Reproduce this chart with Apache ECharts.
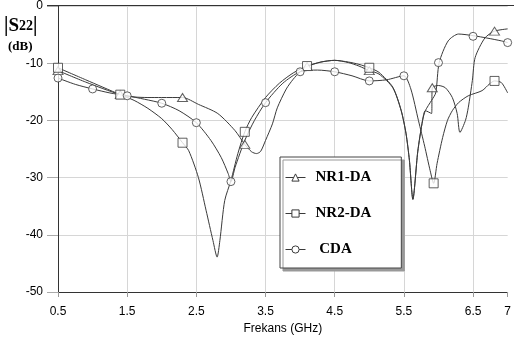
<!DOCTYPE html>
<html><head><meta charset="utf-8">
<script src="https://cdn.jsdelivr.net/npm/echarts@6/dist/echarts.min.js"></script>
<style>html,body{margin:0;padding:0;background:#fff}#c{width:514px;height:341px}</style>
</head><body><div id="c"></div>
<script>
// x tick labels (GHz), one per 0.5 GHz; only odd halves and the last are shown
const xTickLabels = ['0.5','1','1.5','2','2.5','3','3.5','4','4.5','5','5.5','6','6.5','7'];
const yTicks = [0, -10, -20, -30, -40, -50];

// curves [GHz, dB]
const nr1Curve = [[0.5,-11.3],[0.9,-13.3],[1.4,-15.5],[1.6,-15.9],[1.8,-16.0],[2.0,-16.0],[2.3,-16.0],[2.53,-17.2],[2.81,-18.8],[3.06,-21.8],[3.2,-24.2],[3.3,-25.5],[3.37,-25.8],[3.43,-25.4],[3.5,-23.5],[3.6,-20.6],[3.67,-17.8],[3.8,-14.5],[3.9,-12.8],[4.0,-11.5],[4.1,-10.6],[4.3,-9.8],[4.5,-9.5],[4.7,-9.9],[4.85,-10.5],[5.0,-11.3],[5.14,-11.9],[5.34,-14.3],[5.46,-18.3],[5.53,-22.3],[5.58,-27],[5.63,-33.8],[5.7,-25.5],[5.77,-20],[5.81,-18.3],[5.9,-18.8],[5.91,-14.3],[6.0,-13.9],[6.1,-14.3],[6.2,-16],[6.27,-18.8],[6.31,-22.1],[6.39,-20],[6.43,-17.8],[6.49,-13],[6.53,-9],[6.67,-5.6],[6.81,-4.4],[7.0,-4.0]];
const nr2Curve = [[0.5,-10.8],[0.9,-12.9],[1.4,-15.5],[1.6,-16.5],[1.8,-17.9],[2.0,-19.7],[2.15,-21.6],[2.3,-23.9],[2.39,-25.3],[2.53,-30],[2.64,-35.7],[2.74,-41],[2.8,-43.9],[2.84,-41],[2.91,-34],[3.0,-30.5],[3.1,-25.8],[3.2,-22],[3.3,-19.5],[3.5,-16],[3.7,-13.5],[3.9,-11.7],[4.1,-10.5],[4.3,-9.8],[4.5,-9.5],[4.7,-9.8],[4.85,-10.2],[5.0,-10.8],[5.14,-11.6],[5.34,-14.2],[5.46,-18.2],[5.53,-22.2],[5.58,-27],[5.63,-33.8],[5.7,-25.5],[5.77,-20],[5.81,-18.3],[5.9,-16.5],[5.96,-15.2],[6.01,-9.9],[6.14,-6.1],[6.29,-4.9],[6.51,-5.2],[6.7,-5.6],[6.91,-6.1],[7.0,-6.4]];
const cdaCurve = [[0.5,-12.6],[0.75,-13.7],[1.0,-14.5],[1.25,-15.2],[1.5,-15.7],[1.75,-16.3],[2.0,-17.0],[2.25,-18.3],[2.5,-20.4],[2.71,-23.5],[2.86,-26.5],[2.96,-29.3],[3.0,-30.7],[3.06,-28.2],[3.2,-23.5],[3.34,-20.0],[3.5,-16.9],[3.75,-13.5],[4.0,-11.5],[4.25,-11.2],[4.5,-11.5],[4.75,-12.2],[5.0,-13.1],[5.25,-12.9],[5.5,-12.2],[5.6,-14.5],[5.71,-20],[5.8,-24.5],[5.88,-28.8],[5.93,-31],[5.98,-27.5],[6.06,-23],[6.13,-20],[6.2,-18.3],[6.29,-16.9],[6.43,-15.7],[6.63,-14.8],[6.74,-13.6],[6.81,-13.1],[6.91,-13.4],[7.0,-15.2]];

// marker positions [GHz, dB]
const nr1Marks = [[0.5,-11.3],[1.4,-15.5],[2.3,-16.0],[3.2,-24.2],[4.1,-10.6],[5.0,-11.3],[5.91,-14.3],[6.81,-4.4]];
const nr2Marks = [[0.5,-10.8],[1.4,-15.5],[2.3,-23.9],[3.2,-22],[4.1,-10.5],[5.0,-10.8],[5.93,-31],[6.81,-13.1]];
const cdaMarks = [[0.5,-12.6],[1.0,-14.5],[1.5,-15.7],[2.0,-17.0],[2.5,-20.4],[3.0,-30.7],[3.5,-16.9],[4.0,-11.5],[4.5,-11.5],[5.0,-13.1],[5.5,-12.2],[6.0,-9.9],[6.5,-5.3],[7.0,-6.4]];

const names = ['NR1-DA','NR2-DA','CDA'];
const curves = [nr1Curve, nr2Curve, cdaCurve];
const marks = [nr1Marks, nr2Marks, cdaMarks];
const symbols = ['triangle','rect','circle'];
const symSizes = [[10,8],9,8];

const LINE = '#3a3a3a';
const shown = i => i % 2 === 0 || i === xTickLabels.length - 1;
const markStyle = { color: '#fff', borderColor: LINE, borderWidth: 1 };

const series = [];
names.forEach((n, k) => {
  series.push({
    name: n, type: 'line', xAxisIndex: 1, yAxisIndex: 0,
    data: curves[k], smooth: 0.25, symbol: symbols[k], showSymbol: false,
    lineStyle: { color: LINE, width: 1 }, itemStyle: markStyle,
    animation: false, z: 2
  });
});
names.forEach((n, k) => {
  series.push({
    name: n, type: 'scatter', xAxisIndex: 1, yAxisIndex: 0,
    data: marks[k], symbol: symbols[k], symbolSize: symSizes[k],
    itemStyle: markStyle, animation: false, z: 3, clip: false
  });
});

const chart = echarts.init(document.getElementById('c'), null, { renderer: 'canvas' });
chart.setOption({
  backgroundColor: '#fff',
  animation: false,
  grid: { left: 58, right: 1, top: 5, bottom: 49, containLabel: false },
  xAxis: [
    {
      type: 'category', data: xTickLabels, boundaryGap: false, position: 'bottom',
      name: 'Frekans (GHz)', nameLocation: 'middle', nameGap: 31,
      nameTextStyle: { fontFamily: 'Liberation Sans', fontSize: 12, color: '#000' },
      axisLine: { show: true, onZero: false, lineStyle: { color: '#333', width: 1 } },
      axisTick: { show: true, length: 5, interval: (i) => shown(i), lineStyle: { color: '#999' } },
      axisLabel: { interval: (i) => shown(i), margin: 14, fontFamily: 'Liberation Sans', fontSize: 12, color: '#000', showMaxLabel: true, hideOverlap: false },
      splitLine: { show: true, interval: (i) => i % 2 === 0 && i > 0, lineStyle: { color: '#d6d6d6', width: 1 } }
    },
    {
      type: 'value', min: 0.5, max: 7, position: 'top', show: false,
      axisLine: { onZero: false }
    }
  ],
  yAxis: [{
    type: 'value', min: yTicks[yTicks.length - 1], max: yTicks[0], interval: 10,
    axisLine: { show: true, onZero: false, lineStyle: { color: '#333', width: 1 } },
    axisTick: { show: true, length: 11, lineStyle: { color: '#aaa' } },
    axisLabel: { margin: 15, fontFamily: 'Liberation Sans', fontSize: 12, color: '#000', showMaxLabel: true, showMinLabel: true, hideOverlap: false },
    splitLine: { show: true, lineStyle: { color: '#d6d6d6', width: 1 } }
  }],
  legend: {
    data: names, orient: 'vertical', left: 280, top: 157,
    padding: [13, 30, 11, 5], itemGap: 21, itemWidth: 20, itemHeight: 9,
    backgroundColor: '#fff', borderColor: '#444', borderWidth: 1,
    shadowColor: '#999', shadowOffsetX: 3, shadowOffsetY: 3, shadowBlur: 0,
    itemStyle: { color: '#fff', borderColor: LINE, borderWidth: 1 },
    lineStyle: { color: LINE, width: 1 },
    textStyle: { fontFamily: 'Liberation Serif', fontWeight: 'bold', fontSize: 15, color: '#000', padding: [0, 0, 0, 5] },
    formatter: (n) => n === 'CDA' ? ' CDA' : n,
    selectedMode: false
  },
  graphic: [
    { type: 'line', shape: { x1: 47, y1: 5.5, x2: 514, y2: 5.5 }, style: { stroke: '#333', lineWidth: 1 }, z: 10 },
    { type: 'text', left: 4, top: 16, style: {
      text: '{p||}{s|S}{n|22}{p||}',
      rich: {
        p: { fontFamily: 'Liberation Serif', fontSize: 20, fontWeight: 'bold', fill: '#000' },
        s: { fontFamily: 'Liberation Serif', fontSize: 19, fontWeight: 'bold', fill: '#000' },
        n: { fontFamily: 'Liberation Serif', fontSize: 14, fontWeight: 'bold', fill: '#000' }
      }
    }},
    { type: 'text', left: 8, top: 40, style: { text: '(dB)', fontFamily: 'Liberation Serif', fontSize: 13, fontWeight: 'bold', fill: '#000' } }
  ],
  series: series
});
</script></body></html>
